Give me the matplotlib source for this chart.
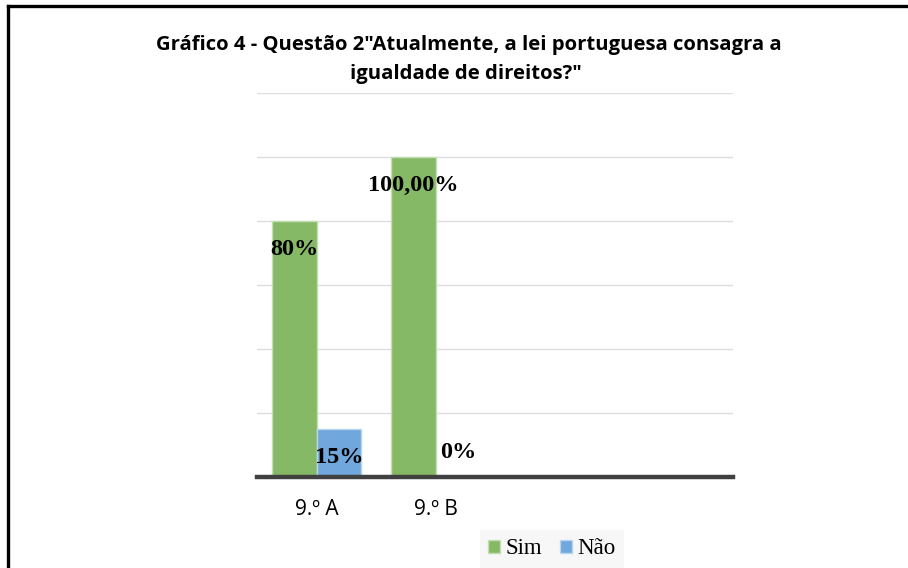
import matplotlib.pyplot as plt
import numpy as np
from matplotlib.lines import Line2D

categories = ["9.º A", "9.º B"]
sim_values = [80, 100]
nao_values = [15, 0]
sim_labels = ["80%", "100,00%"]
nao_labels = ["15%", "0%"]
n_slots = 4  # axis leaves room for four groups

green = "#86b965"
blue = "#70a7dc"

fig = plt.figure(figsize=(9.08, 5.68), dpi=100)
ax = fig.add_axes([257 / 908, 1 - 477 / 568, 476 / 908, 384 / 568])

x = np.arange(len(categories))
w = 0.375
ax.bar(x - w / 2, sim_values, w, color=green, edgecolor="#c4ddb3", linewidth=1.0, label="Sim", zorder=3)
ax.bar(x + w / 2, nao_values, w, color=blue, edgecolor="#bcd5ef", linewidth=1.0, label="Não", zorder=3)

label_font = dict(family="Liberation Serif", fontweight="bold", fontsize=17.5)
for xi, v, t in zip(x - w / 2, sim_values, sim_labels):
    ax.text(xi, v - 9 if v > 9 else 7.7, t, ha="center", va="center", zorder=4, **label_font)
for xi, v, t in zip(x + w / 2, nao_values, nao_labels):
    ax.text(xi, v - 9 if v > 9 else 7.7, t, ha="center", va="center", zorder=4, **label_font)

ax.set_xlim(-0.5, n_slots - 0.5)
ax.set_ylim(0, 120)
ax.set_yticks(np.arange(0, 121, 20))
ax.yaxis.grid(True, color="#dedede", linewidth=1.0, zorder=0)
ax.tick_params(axis="y", left=False, labelleft=False)
ax.set_xticks(x)
ax.set_xticklabels(categories, family="Open Sans", fontsize=15)
ax.tick_params(axis="x", bottom=False, pad=12)
for s in ["top", "right", "left"]:
    ax.spines[s].set_visible(False)
ax.spines["bottom"].set_color("#404040")
ax.spines["bottom"].set_linewidth(3.2)
ax.spines["bottom"].set_zorder(5)

title_font = dict(family="Open Sans", fontweight="bold", fontsize=14.6)
fig.text(469 / 908, 1 - 45 / 568, "Gráfico 4 - Questão 2\"Atualmente, a lei portuguesa consagra a",
         ha="center", va="center", **title_font)
fig.text(466 / 908, 1 - 74 / 568, "igualdade de direitos?\"",
         ha="center", va="center", **title_font)

leg = fig.legend(loc="center", bbox_to_anchor=(552 / 908, 1 - 549 / 568), ncol=2,
                 prop=dict(family="Liberation Serif", size=16.5), frameon=True,
                 facecolor="#f7f7f7", edgecolor="none", fancybox=False,
                 handlelength=0.5, handleheight=0.5, handletextpad=0.25, columnspacing=0.8,
                 borderpad=0.35)
leg.get_frame().set_alpha(1)

# outer border (left and top only)
fig.add_artist(Line2D([8 / 908, 8 / 908], [0, 1 - 6 / 568], color="black", linewidth=2.4, transform=fig.transFigure))
fig.add_artist(Line2D([8 / 908, 1], [1 - 6 / 568, 1 - 6 / 568], color="black", linewidth=2.4, transform=fig.transFigure))

fig.savefig("out.png", dpi=100)
